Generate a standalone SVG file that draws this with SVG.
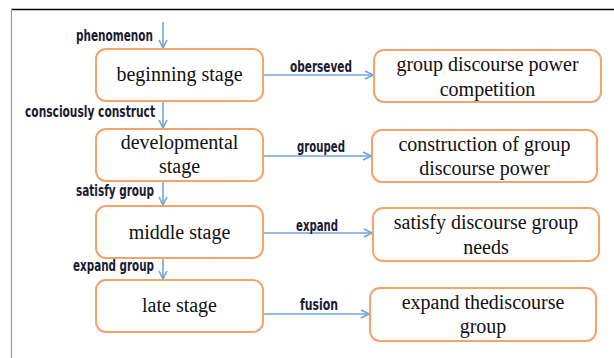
<svg xmlns="http://www.w3.org/2000/svg" width="614" height="358" viewBox="0 0 614 358">
<style>
.node rect{fill:#fff;stroke:#f5a26f;stroke-width:2}
.node text{font-family:"Liberation Serif","Times New Roman",serif;font-size:20px;fill:#111;text-anchor:middle}
.lbl{font-family:"DejaVu Sans Condensed","DejaVu Sans",sans-serif;font-stretch:condensed;font-size:15px;font-weight:bold;fill:#1a1a33}
.conn line{stroke:#6fa5dc;stroke-width:1.6;fill:none}
</style>
<defs>
<marker id="ah" viewBox="0 0 10 10" refX="9" refY="5" markerWidth="10" markerHeight="10" markerUnits="userSpaceOnUse" orient="auto">
<path d="M1,1 L9,5 L1,9" fill="none" stroke="#6fa5dc" stroke-width="1.6"/>
</marker>
</defs>
<rect width="614" height="358" fill="#fff"/>
<line x1="11" y1="9.5" x2="614" y2="9.5" stroke="#000" stroke-width="1.5"/>
<line x1="11.5" y1="9" x2="11.5" y2="358" stroke="#9a9a9a" stroke-width="1.2"/>

<g id="connectors" class="conn">
<line x1="163" y1="22" x2="163" y2="48" marker-end="url(#ah)"/>
<line x1="163" y1="102" x2="163" y2="128" marker-end="url(#ah)"/>
<line x1="163" y1="182" x2="163" y2="205" marker-end="url(#ah)"/>
<line x1="163" y1="259" x2="163" y2="279" marker-end="url(#ah)"/>
<line x1="263" y1="75" x2="373" y2="75" marker-end="url(#ah)"/>
<line x1="260" y1="156" x2="371" y2="156" marker-end="url(#ah)"/>
<line x1="262" y1="233" x2="372" y2="233" marker-end="url(#ah)"/>
<line x1="258" y1="314" x2="369" y2="314" marker-end="url(#ah)"/>
</g>
<g id="labels">
<text class="lbl" x="76" y="41" textLength="77" lengthAdjust="spacingAndGlyphs">phenomenon</text>
<text class="lbl" x="25" y="117" textLength="130" lengthAdjust="spacingAndGlyphs">consciously construct</text>
<text class="lbl" x="76" y="196" textLength="78" lengthAdjust="spacingAndGlyphs">satisfy group</text>
<text class="lbl" x="73" y="271" textLength="81" lengthAdjust="spacingAndGlyphs">expand group</text>
<text class="lbl" x="290" y="72" textLength="62" lengthAdjust="spacingAndGlyphs">oberseved</text>
<text class="lbl" x="297" y="152" textLength="48" lengthAdjust="spacingAndGlyphs">grouped</text>
<text class="lbl" x="296" y="231" textLength="42" lengthAdjust="spacingAndGlyphs">expand</text>
<text class="lbl" x="300" y="310" textLength="38" lengthAdjust="spacingAndGlyphs">fusion</text>
</g>

<g id="n-beginning" class="node"><rect x="96" y="49" width="167" height="52" rx="10"/><text x="179.5" y="81">beginning stage</text></g>
<g id="n-developmental" class="node"><rect x="96" y="129" width="167" height="52" rx="10"/><text x="179.5" y="149">developmental</text><text x="179.5" y="173">stage</text></g>
<g id="n-middle" class="node"><rect x="96" y="206" width="167" height="52" rx="10"/><text x="179.5" y="239">middle stage</text></g>
<g id="n-late" class="node"><rect x="96" y="280" width="167" height="52" rx="10"/><text x="179.5" y="312">late stage</text></g>

<g id="n-competition" class="node"><rect x="374" y="50" width="227" height="52" rx="10"/><text x="487.5" y="71">group discourse power</text><text x="487.5" y="96">competition</text></g>
<g id="n-construction" class="node"><rect x="372" y="130" width="225" height="52" rx="10"/><text x="484.5" y="151">construction of group</text><text x="484.5" y="175">discourse power</text></g>
<g id="n-satisfy" class="node"><rect x="373" y="208" width="226" height="53" rx="10"/><text x="486" y="229">satisfy discourse group</text><text x="486" y="254">needs</text></g>
<g id="n-expand" class="node"><rect x="370" y="288" width="226" height="53" rx="10"/><text x="483" y="309">expand thediscourse</text><text x="483" y="333">group</text></g>
</svg>
